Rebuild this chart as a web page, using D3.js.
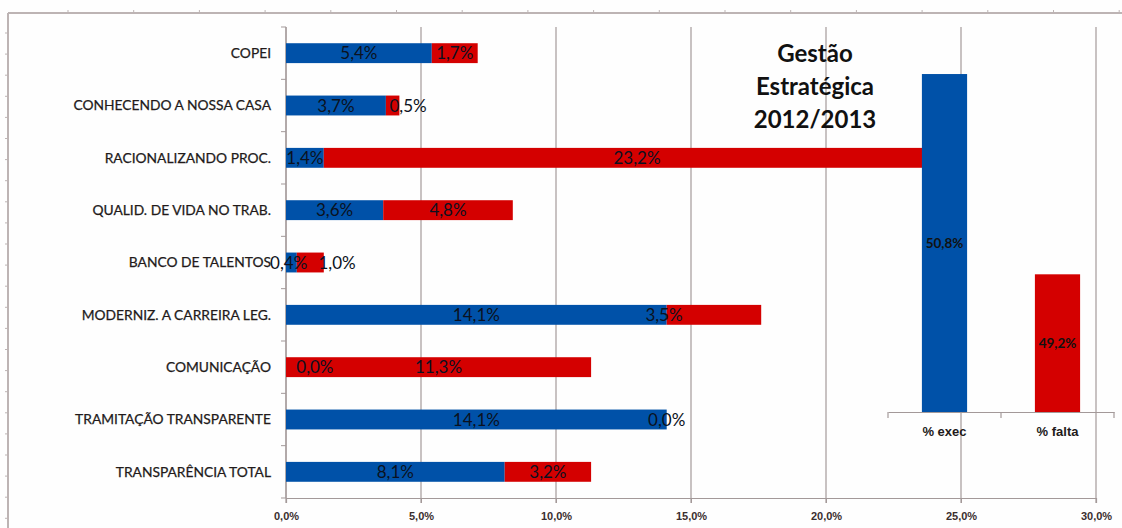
<!DOCTYPE html>
<html>
<head>
<meta charset="utf-8">
<script src="https://cdn.jsdelivr.net/npm/d3@7"></script>
<style>
  body { margin: 0; background: #fefefe; }
  svg { display: block; font-family: Lato, "Open Sans", sans-serif; }
</style>
</head>
<body>
<svg width="1122" height="528"></svg>
<script>
// Data
const categories = ["COPEI", "CONHECENDO A NOSSA CASA", "RACIONALIZANDO PROC.", "QUALID. DE VIDA NO TRAB.",
  "BANCO DE TALENTOS", "MODERNIZ. A CARREIRA LEG.", "COMUNICAÇÃO", "TRAMITAÇÃO TRANSPARENTE", "TRANSPARÊNCIA TOTAL"];
const execValues = [5.4, 3.7, 1.4, 3.6, 0.4, 14.1, 0.0, 14.1, 8.1];
const faltaValues = [1.7, 0.5, 23.2, 4.8, 1.0, 3.5, 11.3, 0.0, 3.2];
const xTicks = [0, 5, 10, 15, 20, 25, 30];

const summaryCategories = ["% exec", "% falta"];
const summaryValues = [50.8, 49.2];

const titleLines = ["Gestão", "Estratégica", "2012/2013"];

// label nudges (in % units) where the labels were moved by hand
const labelShiftExec = [0, 0, 0, 0, -0.1, 0, 1.07, 0, 0];
const labelShiftFalta = [0, 0.57, 0, 0, 0.99, -1.85, 0, 0, 0];

const blue = "#0051a8";
const red = "#d40000";
const gridColor = "#a39999";
const textColor = "#221a1a";

const fmt = v => d3.format(".1f")(v).replace(".", ",") + "%";

const svg = d3.select("svg");

// outer frame with little ruler marks
const frame = svg.append("g").attr("stroke", "#bdb4b4").attr("fill", "none");
frame.append("line").attr("x1", 8).attr("x2", 1122).attr("y1", 13).attr("y2", 13).attr("stroke-width", 2);
frame.append("line").attr("x1", 8).attr("x2", 8).attr("y1", 13).attr("y2", 528).attr("stroke-width", 2);
frame.selectAll(".tt").data(d3.range(68, 1122, 65.7)).enter().append("line")
  .attr("x1", d => d).attr("x2", d => d).attr("y1", 10).attr("y2", 13).attr("stroke-width", 1);
frame.selectAll(".lt").data(d3.range(33, 528, 21.1)).enter().append("line")
  .attr("x1", 5).attr("x2", 8).attr("y1", d => d).attr("y2", d => d).attr("stroke-width", 1);

// Main horizontal stacked bars
const x = d3.scaleLinear().domain([0, 30]).range([286, 1096]);
const y = d3.scaleBand().domain(categories).range([27, 498]).paddingInner(0.62).paddingOuter(0.31);

// gridlines
svg.append("g").selectAll("line").data(xTicks).enter().append("line")
  .attr("x1", d => x(d)).attr("x2", d => x(d))
  .attr("y1", 27).attr("y2", 503)
  .attr("stroke", gridColor).attr("stroke-width", 1.2);

// bottom axis
const xAxis = svg.append("g")
  .attr("transform", "translate(0,498)")
  .call(d3.axisBottom(x).tickValues(xTicks).tickSize(5).tickFormat(fmt));
xAxis.select(".domain").attr("stroke", gridColor).attr("stroke-width", 1.2);
xAxis.selectAll(".tick line").attr("stroke", gridColor);
xAxis.selectAll("text")
  .attr("y", 14)
  .attr("fill", "#3a2e2e")
  .attr("font-size", 11)
  .attr("font-weight", "bold");

// left axis: line plus ticks at band edges
const step = y.step();
const edges = d3.range(categories.length + 1).map(i => y.range()[0] + i * step);
svg.append("line").attr("x1", 286).attr("x2", 286).attr("y1", 27).attr("y2", 498)
  .attr("stroke", gridColor).attr("stroke-width", 1.2);
svg.append("g").selectAll("line").data(edges).enter().append("line")
  .attr("x1", 281).attr("x2", 286).attr("y1", d => d).attr("y2", d => d)
  .attr("stroke", gridColor);

// category labels
svg.append("g").selectAll("text").data(categories).enter().append("text")
  .attr("x", 271)
  .attr("y", d => y(d) + y.bandwidth() / 2)
  .attr("dy", "0.35em")
  .attr("text-anchor", "end")
  .attr("font-size", 13.8)
  .attr("fill", textColor)
  .attr("stroke", textColor)
  .attr("stroke-width", 0.25)
  .text(d => d);

// bars
const rows = categories.map((c, i) => ({cat: c, exec: execValues[i], falta: faltaValues[i], i: i}));
const bars = svg.append("g");
bars.selectAll(".exec").data(rows).enter().append("rect")
  .attr("x", x(0))
  .attr("y", d => y(d.cat))
  .attr("width", d => x(d.exec) - x(0))
  .attr("height", y.bandwidth())
  .attr("fill", blue);
bars.selectAll(".falta").data(rows).enter().append("rect")
  .attr("x", d => x(d.exec))
  .attr("y", d => y(d.cat))
  .attr("width", d => x(d.exec + d.falta) - x(d.exec))
  .attr("height", y.bandwidth())
  .attr("fill", red);

// bar labels
const labels = svg.append("g")
  .attr("font-size", 17)
  .attr("fill", "#0b1120")
  .attr("text-anchor", "middle");
labels.selectAll(".le").data(rows).enter().append("text")
  .attr("x", d => x(d.exec / 2 + labelShiftExec[d.i]))
  .attr("y", d => y(d.cat) + y.bandwidth() / 2)
  .attr("dy", "0.36em")
  .text(d => fmt(d.exec));
labels.selectAll(".lf").data(rows).enter().append("text")
  .attr("x", d => x(d.exec + d.falta / 2 + labelShiftFalta[d.i]))
  .attr("y", d => y(d.cat) + y.bandwidth() / 2)
  .attr("dy", "0.36em")
  .text(d => fmt(d.falta));

// title
svg.append("g").selectAll("text").data(titleLines).enter().append("text")
  .attr("x", 815)
  .attr("y", (d, i) => 62 + i * 33)
  .attr("text-anchor", "middle")
  .attr("font-size", 24)
  .attr("font-weight", "bold")
  .attr("fill", "#111")
  .text(d => d);

// Summary column chart (inset)
const sx = d3.scaleBand().domain(summaryCategories).range([888, 1114]).paddingInner(0.6).paddingOuter(0.3);
const sy = d3.scaleLinear().domain([48.1, 51]).range([412, 49]);
const summary = summaryCategories.map((c, i) => ({cat: c, v: summaryValues[i]}));

svg.append("g").selectAll("rect").data(summary).enter().append("rect")
  .attr("x", d => sx(d.cat))
  .attr("y", d => sy(d.v))
  .attr("width", sx.bandwidth())
  .attr("height", d => sy.range()[0] - sy(d.v))
  .attr("fill", (d, i) => i === 0 ? blue : red);

svg.append("g").selectAll("text").data(summary).enter().append("text")
  .attr("x", d => sx(d.cat) + sx.bandwidth() / 2)
  .attr("y", d => (sy(d.v) + sy.range()[0]) / 2)
  .attr("dy", "0.35em")
  .attr("text-anchor", "middle")
  .attr("font-size", 13.5)
  .attr("font-weight", "bold")
  .attr("fill", "#111")
  .text(d => fmt(d.v));

const sAxis = svg.append("g")
  .attr("transform", "translate(0,412)")
  .call(d3.axisBottom(sx).tickSize(0).tickPadding(15));
sAxis.select(".domain").attr("stroke", gridColor).attr("stroke-width", 1.2);
sAxis.selectAll("text")
  .attr("font-size", 13)
  .attr("font-weight", "bold")
  .attr("fill", textColor);
// category separators on the inset axis
svg.append("g").selectAll("line").data([888, 1001, 1114]).enter().append("line")
  .attr("x1", d => d).attr("x2", d => d).attr("y1", 412).attr("y2", 418)
  .attr("stroke", gridColor).attr("stroke-width", 1.2);
</script>
</body>
</html>
